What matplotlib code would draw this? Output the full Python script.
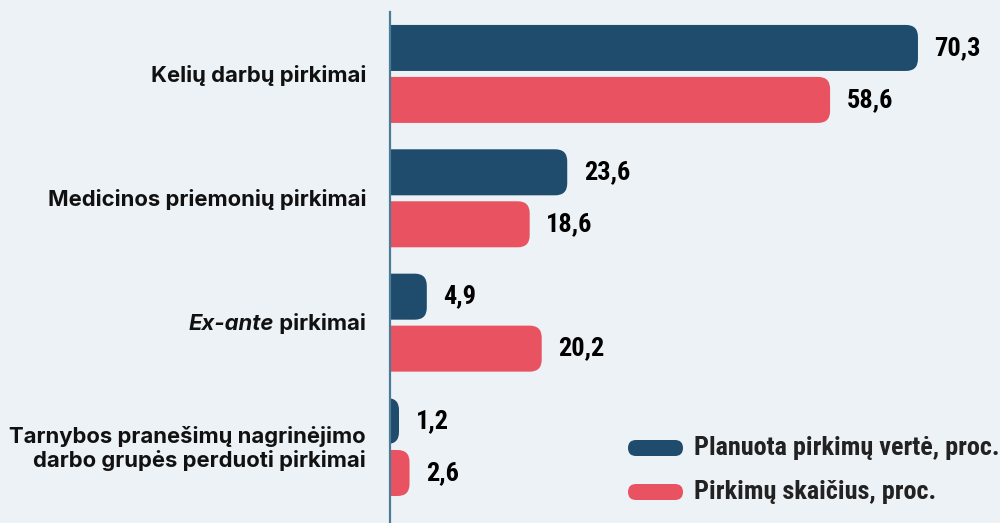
import matplotlib
matplotlib.use("Agg")
import matplotlib.pyplot as plt
from matplotlib.patches import FancyBboxPatch

categories = ["Kelių darbų pirkimai",
              "Medicinos priemonių pirkimai",
              "Ex-ante pirkimai",
              "Tarnybos pranešimų nagrinėjimo\ndarbo grupės perduoti pirkimai"]
planuota = [70.3, 23.6, 4.9, 1.2]
skaicius = [58.6, 18.6, 20.2, 2.6]
series_names = ["Planuota pirkimų vertė, proc.", "Pirkimų skaičius, proc."]

BG = "#edf2f6"
BLUE = "#1f4b6d"
RED = "#e95361"
AXIS = "#4b7c95"
NUM_FONT = ["Roboto Condensed", "Barlow Condensed", "Archivo Narrow", "Roboto"]
LAB_FONT = ["Inter", "DejaVu Sans"]
LAB_SIZE = 15.9

fig = plt.figure(figsize=(10, 5.23), dpi=100, facecolor=BG)
ax = fig.add_axes([0.39, 0.0, 0.61, 1 - 12 / 523])
ax.set_facecolor(BG)

xmax = 610 / 7.51
ax.set_xlim(0, xmax)
ax.set_ylim(3.611, -0.498)

h = 0.37
off = 0.209
rx = 1.6
ry = 0.0965
for i in range(len(categories)):
    for val, dy, col in [(planuota[i], -off, BLUE), (skaicius[i], off, RED)]:
        p = FancyBboxPatch((-3, i + dy - h / 2), val + 3, h,
                           boxstyle=f"round,pad=0,rounding_size={rx}",
                           mutation_aspect=ry / rx, fc=col, ec="none")
        ax.add_patch(p)
        ax.text(val + 2.2, i + dy, f"{val:.1f}".replace(".", ","),
                ha="left", va="center", fontsize=19, fontweight="bold",
                family=NUM_FONT, color="black")

for s in ["top", "right", "bottom"]:
    ax.spines[s].set_visible(False)
ax.spines["left"].set_color(AXIS)
ax.spines["left"].set_linewidth(1.6)
ax.set_xticks([])
ax.set_yticks([])

# category labels (Ex-ante is set in italic)
lab_x = -24 / 7.51
for i, cat in enumerate(categories):
    if cat.startswith("Ex-ante"):
        t = ax.text(lab_x, i + 0.01, " pirkimai", ha="right", va="center", fontsize=LAB_SIZE,
                    fontweight="bold", family=LAB_FONT, color="#111111")
        ax.annotate("Ex-ante", xy=(0, 0.5), xycoords=t, ha="right", va="center",
                    fontsize=LAB_SIZE, fontweight="bold", fontstyle="italic",
                    family=LAB_FONT, color="#111111", annotation_clip=False)
    else:
        ax.text(lab_x, i + 0.01, cat, ha="right", va="center", fontsize=LAB_SIZE,
                fontweight="bold", family=LAB_FONT, linespacing=1.2, color="#111111")
for t in ax.texts:
    t.set_clip_on(False)

# legend with pill markers
for k, (name, col) in enumerate(zip(series_names, [BLUE, RED])):
    yc = 1 - (448 + 44 * k) / 523
    fig.add_artist(FancyBboxPatch((628 / 1000, yc - 8 / 523), 55 / 1000, 16 / 523,
                                  boxstyle="round,pad=0,rounding_size=0.008",
                                  mutation_aspect=(8 / 523) / 0.008,
                                  transform=fig.transFigure, fc=col, ec="none"))
    fig.text(694 / 1000, yc, name, ha="left", va="center", fontsize=18.9,
             fontweight="bold", family=NUM_FONT, color="#222222")

fig.savefig("out.png", dpi=100, facecolor=BG)
